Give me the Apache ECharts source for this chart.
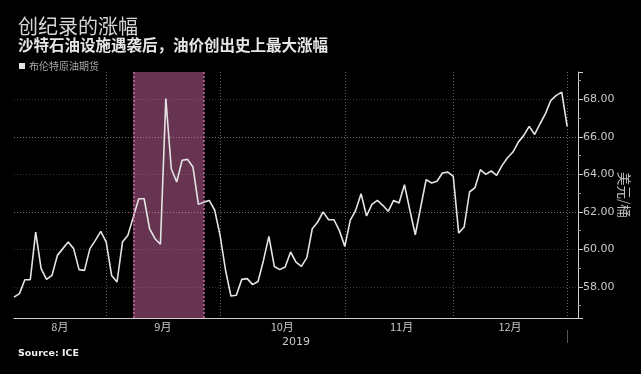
<!DOCTYPE html>
<html>
<head>
<meta charset="utf-8">
<script src="https://cdn.jsdelivr.net/npm/echarts@6/dist/echarts.min.js"></script>
<style>html,body{margin:0;padding:0;background:#000;}#c{width:641px;height:374px;}</style>
</head>
<body>
<div id="c"></div>
<script>
// Trading dates (categories); two trailing January dates only extend the axis
const dates = [
  '2019-08-07','2019-08-08','2019-08-09','2019-08-12','2019-08-13','2019-08-14','2019-08-15','2019-08-16','2019-08-19','2019-08-20','2019-08-21','2019-08-22','2019-08-23','2019-08-26','2019-08-27','2019-08-28','2019-08-29','2019-08-30',
  '2019-09-02','2019-09-03','2019-09-04','2019-09-05','2019-09-06','2019-09-09','2019-09-10','2019-09-11','2019-09-12','2019-09-13','2019-09-16','2019-09-17','2019-09-18','2019-09-19','2019-09-20','2019-09-23','2019-09-24','2019-09-25','2019-09-26','2019-09-27','2019-09-30',
  '2019-10-01','2019-10-02','2019-10-03','2019-10-04','2019-10-07','2019-10-08','2019-10-09','2019-10-10','2019-10-11','2019-10-14','2019-10-15','2019-10-16','2019-10-17','2019-10-18','2019-10-21','2019-10-22','2019-10-23','2019-10-24','2019-10-25','2019-10-28','2019-10-29','2019-10-30','2019-10-31',
  '2019-11-01','2019-11-04','2019-11-05','2019-11-06','2019-11-07','2019-11-08','2019-11-11','2019-11-12','2019-11-13','2019-11-14','2019-11-15','2019-11-18','2019-11-19','2019-11-20','2019-11-21','2019-11-22','2019-11-25','2019-11-26','2019-11-27','2019-11-29',
  '2019-12-02','2019-12-03','2019-12-04','2019-12-05','2019-12-06','2019-12-09','2019-12-10','2019-12-11','2019-12-12','2019-12-13','2019-12-16','2019-12-17','2019-12-18','2019-12-19','2019-12-20','2019-12-23','2019-12-24','2019-12-26','2019-12-27','2019-12-30','2019-12-31',
  '2020-01-02','2020-01-03'
];
// Brent futures price, USD/barrel
const brent = [
  57.45,57.64,58.38,58.38,60.92,58.97,58.40,58.61,59.68,60.04,60.39,60.04,58.92,58.88,60.04,60.48,60.96,60.39,
  58.61,58.26,60.39,60.75,61.72,62.70,62.70,61.10,60.57,60.27,68.04,64.30,63.59,64.75,64.80,64.39,62.40,62.52,62.61,62.10,60.75,
  58.90,57.51,57.55,58.40,58.44,58.12,58.29,59.41,60.69,59.09,58.92,59.06,59.86,59.32,59.09,59.56,61.10,61.46,62.00,61.58,61.58,61.00,60.16,
  61.55,62.08,62.97,61.78,62.40,62.61,62.35,62.03,62.61,62.47,63.45,62.08,60.78,62.26,63.72,63.54,63.63,64.07,64.12,63.89,
  60.87,61.19,63.06,63.29,64.25,64.00,64.18,63.95,64.48,64.89,65.19,65.72,66.08,66.56,66.13,66.70,67.24,67.95,68.21,68.39,66.56,
  null,null
];
// Highlighted period (Saudi facility attack)
const highlightStart = '2019-09-06';
const highlightEnd = '2019-09-25';
const yMin = 56.34, yMax = 69.46;

const monthOf = d => d.slice(0, 7);
const yearOf = d => d.slice(0, 4);
// month boundaries: last trading day of each month
const isBoundary = i => i < dates.length - 1 && monthOf(dates[i + 1]) !== monthOf(dates[i]);
const isYearEnd = i => i < dates.length - 1 && yearOf(dates[i + 1]) !== yearOf(dates[i]);
const boundaries = [0];
dates.forEach((d, i) => { if (isBoundary(i)) boundaries.push(i); });
const labelIdx = {};
for (let k = 1; k < boundaries.length; k++) {
  const mid = Math.floor((boundaries[k - 1] + boundaries[k]) / 2);
  labelIdx[mid] = parseInt(dates[boundaries[k]].slice(5, 7), 10) + '月';
}

const chart = echarts.init(document.getElementById('c'));
const cjk = '"Noto Sans CJK SC", sans-serif';
chart.setOption({
  backgroundColor: '#000',
  animation: false,
  title: [
    { text: '创纪录的涨幅', left: 13, top: 11, textStyle: { color: '#d6d6d6', fontSize: 20, fontWeight: 'normal', fontFamily: cjk } },
    { text: '沙特石油设施遇袭后，油价创出史上最大涨幅', left: 13, top: 32, textStyle: { color: '#e6e6e6', fontSize: 15.5, fontWeight: 'bold', fontFamily: cjk } },
    { text: 'Source: ICE', left: 13, top: 344, textStyle: { color: '#f0f0f0', fontSize: 9.5, fontWeight: 'bold', fontFamily: '"DejaVu Sans", sans-serif' } }
  ],
  legend: {
    data: ['布伦特原油期货'], left: 14, top: 56, icon: 'rect', itemWidth: 6, itemHeight: 6, itemGap: 4,
    textStyle: { color: '#a8a8a8', fontSize: 10, fontFamily: cjk, padding: [0, 0, 0, -1] }
  },
  grid: { left: 14, right: 63, top: 72, bottom: 56, containLabel: false, outerBoundsMode: 'none' },
  xAxis: [{
    type: 'category', data: dates, boundaryGap: false,
    name: '2019', nameLocation: 'middle', nameGap: 19, nameMoveOverlap: false,
    nameTextStyle: { color: '#c8c8c8', fontSize: 11, fontFamily: '"DejaVu Sans", sans-serif' },
    axisLine: { lineStyle: { color: '#cfcfcf', width: 1 } },
    axisTick: { show: false },
    axisLabel: {
      interval: (i) => labelIdx[i] !== undefined,
      formatter: (v, i) => labelIdx[i] || '',
      color: '#c8c8c8', fontSize: 11, fontFamily: cjk, margin: 3, padding: [0, 0, 0, 5]
    },
    splitLine: { show: true, interval: (i) => isBoundary(i), lineStyle: { color: '#606060', type: [1, 2], width: 1 } }
  }, {
    // year separator below month labels
    type: 'category', data: dates, boundaryGap: false, position: 'bottom', offset: 12,
    axisLine: { show: false },
    axisTick: { show: true, interval: (i) => isYearEnd(i), length: 13, lineStyle: { color: '#555' } },
    axisLabel: { show: false }, splitLine: { show: false }
  }],
  yAxis: {
    type: 'value', position: 'right', min: yMin, max: yMax, splitNumber: 7, scale: true,
    name: '美元/桶', nameLocation: 'middle', nameGap: 39, nameRotate: -90, nameMoveOverlap: false,
    nameTextStyle: { color: '#c0c0c0', fontSize: 13.5, fontFamily: cjk },
    axisLine: { show: true, lineStyle: { color: '#cfcfcf', width: 1 } },
    axisTick: { show: true, length: 5, lineStyle: { color: '#cfcfcf' } },
    minorTick: { show: true, splitNumber: 2, length: 3, lineStyle: { color: '#999' } },
    axisLabel: {
      color: '#c8c8c8', fontSize: 11, margin: 5, fontFamily: '"DejaVu Sans", sans-serif',
      formatter: v => v.toFixed(2), showMinLabel: false, showMaxLabel: false
    },
    splitLine: {
      show: true, showMinLine: false, showMaxLine: false,
      lineStyle: { color: ['#333', '#333', '#707070', '#333', '#707070', '#333'], type: [1, 2], width: 1 }
    }
  },
  series: [
    {
      name: '布伦特原油期货', type: 'line', data: brent, symbol: 'none', z: 2,
      lineStyle: { color: '#e4e4e4', width: 1.6 }, itemStyle: { color: '#e4e4e4' }
    },
    {
      name: 'highlight', type: 'line', data: [], z: 5, silent: true,
      markArea: {
        silent: true,
        itemStyle: { color: 'rgba(255,128,200,0.4)' },
        data: [[{ xAxis: highlightStart }, { xAxis: highlightEnd }]]
      },
      markLine: {
        silent: true, symbol: 'none', label: { show: false },
        lineStyle: { color: '#d068a8', type: [2, 2], width: 1.5 },
        data: [{ xAxis: highlightStart }, { xAxis: highlightEnd }]
      }
    }
  ]
});
</script>
</body>
</html>
